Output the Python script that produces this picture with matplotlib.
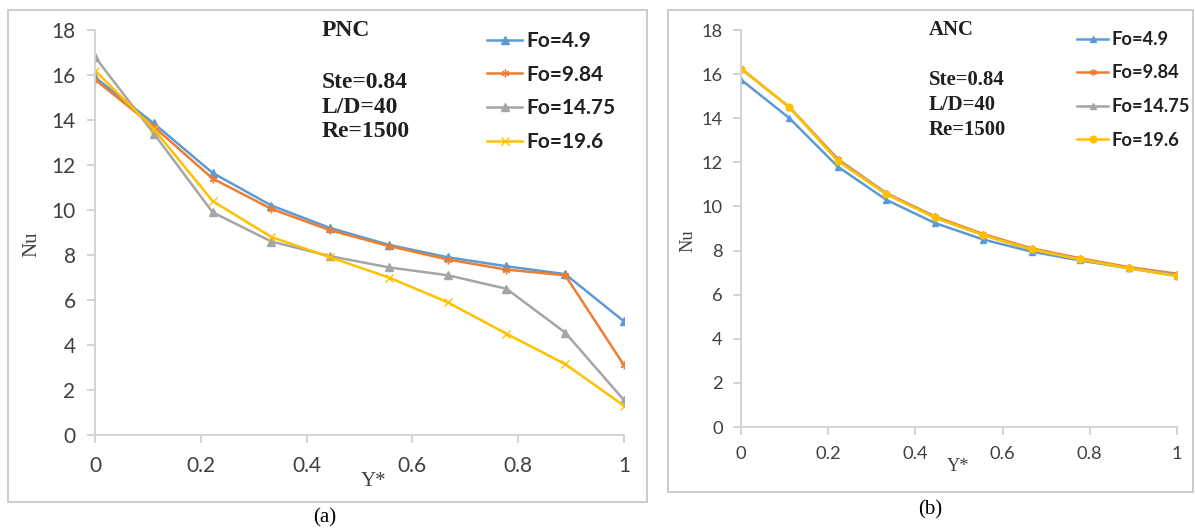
import matplotlib
matplotlib.use("Agg")
import matplotlib.pyplot as plt
from matplotlib.patches import Rectangle
import numpy as np

y_star = [0, 1/9, 2/9, 3/9, 4/9, 5/9, 6/9, 7/9, 8/9, 1]
labels = ["Fo=4.9", "Fo=9.84", "Fo=14.75", "Fo=19.6"]
xtick_labels = ["0", "0.2", "0.4", "0.6", "0.8", "1"]

# PNC case
pnc_fo49 = [15.9, 13.85, 11.65, 10.2, 9.2, 8.45, 7.9, 7.5, 7.15, 5.05]
pnc_fo984 = [15.8, 13.7, 11.4, 10.05, 9.1, 8.4, 7.8, 7.35, 7.1, 3.1]
pnc_fo1475 = [16.8, 13.4, 9.9, 8.6, 7.95, 7.45, 7.1, 6.5, 4.55, 1.55]
pnc_fo196 = [16.2, 13.6, 10.4, 8.8, 7.9, 7.0, 5.9, 4.5, 3.15, 1.3]

# ANC case
anc_fo49 = [15.75, 14.0, 11.8, 10.3, 9.25, 8.5, 7.95, 7.55, 7.2, 6.85]
anc_fo984 = [16.25, 14.5, 12.15, 10.6, 9.55, 8.75, 8.1, 7.65, 7.25, 6.95]
anc_fo1475 = [16.25, 14.5, 12.1, 10.6, 9.5, 8.7, 8.05, 7.6, 7.2, 6.9]
anc_fo196 = [16.25, 14.5, 12.05, 10.55, 9.5, 8.7, 8.05, 7.6, 7.2, 6.85]

colors = ["#5B9BD5", "#ED7D31", "#A5A5A5", "#FFC000"]
star = (6, 2, 0)

W, H = 1195, 530
fig = plt.figure(figsize=(W / 100, H / 100), dpi=100)


def px(x, y):
    # pixel position (from top-left) -> figure fraction
    return x / W, 1 - y / H


# grey frames round each panel
fig.patches.append(Rectangle(px(8, 502), 639 / W, 492 / H, transform=fig.transFigure,
                             fill=False, edgecolor="#C8C8C8", linewidth=1.3))
fig.patches.append(Rectangle(px(668, 492), 525 / W, 482 / H, transform=fig.transFigure,
                             fill=False, edgecolor="#C8C8C8", linewidth=1.3))

ax1 = fig.add_axes([95 / W, 1 - 435 / H, 529 / W, 405 / H])
ax2 = fig.add_axes([741 / W, 1 - 427 / H, 436 / W, 397 / H])

panels = [
    dict(ax=ax1, series=[pnc_fo49, pnc_fo984, pnc_fo1475, pnc_fo196],
         markers=["^", star, "^", "x"], name="PNC", s=1.0, lsp=0.66,
         title_xy=(322, 30), info_y=[82, 107, 132], leg_xy=(487, 31),
         xlab=(0.526, -0.116), ylab=(-0.119, 0.47)),
    dict(ax=ax2, series=[anc_fo49, anc_fo984, anc_fo1475, anc_fo196],
         markers=["^", star, "^", "o"], name="ANC", s=0.88, lsp=0.9,
         title_xy=(929, 30), info_y=[80, 105, 130], leg_xy=(1077, 31),
         xlab=(0.498, -0.10), ylab=(-0.122, 0.47)),
]

for p in panels:
    ax = p["ax"]
    s = p["s"]
    for vals, c, m, lab in zip(p["series"], colors, p["markers"], labels):
        ax.plot(y_star, vals, color=c, marker=m, markersize=5.5 * s, linewidth=1.8,
                label=lab)
    ax.set_xlim(0, 1)
    ax.set_ylim(0, 18)
    ax.set_xticks(np.arange(0, 1.01, 0.2))
    ax.set_xticklabels(xtick_labels)
    ax.set_yticks(np.arange(0, 19, 2))
    for side in ["top", "right"]:
        ax.spines[side].set_visible(False)
    for side in ["left", "bottom"]:
        ax.spines[side].set_color("#D0D0D0")
        ax.spines[side].set_linewidth(1.3)
    ax.tick_params(direction="out", length=6, color="#D0D0D0", width=1.3,
                   labelsize=15 * s, labelcolor="#404040")
    ax.tick_params(axis="x", pad=9 * s)
    ax.tick_params(axis="y", pad=8 * s)
    for t in ax.get_xticklabels() + ax.get_yticklabels():
        t.set_fontfamily("Lato")

    ax.set_xlabel("Y*", fontfamily="Liberation Serif", fontsize=15 * s, color="#404040")
    ax.set_ylabel("Nu", fontfamily="Liberation Serif", fontsize=15 * s, color="#404040")
    ax.xaxis.set_label_coords(*p["xlab"])
    ax.yaxis.set_label_coords(*p["ylab"])
    ax.xaxis.label.set_va("center")
    ax.yaxis.label.set_va("center")

    tx, ty = p["title_xy"]
    fig.text(*px(tx, ty), p["name"], fontfamily="Liberation Serif", fontweight="bold",
             fontsize=17 * s, va="center", color="#202020")
    for line, yy in zip(["Ste=0.84", "L/D=40", "Re=1500"], p["info_y"]):
        fig.text(*px(tx, yy), line, fontfamily="Liberation Serif", fontweight="bold",
                 fontsize=17 * s, va="center", color="#202020")

    leg = ax.legend(loc="upper left", bbox_to_anchor=px(*p["leg_xy"]),
                    bbox_transform=fig.transFigure, frameon=False, borderpad=0,
                    borderaxespad=0, handlelength=1.7, handletextpad=0.2,
                    labelspacing=p["lsp"],
                    prop={"family": "Lato", "weight": "bold", "size": 15 * s})
    for t in leg.get_texts():
        t.set_color("#202020")

fig.text(*px(325, 518), "(a)", fontfamily="Liberation Serif", fontsize=15,
         ha="center", va="center")
fig.text(*px(930, 510), "(b)", fontfamily="Liberation Serif", fontsize=15,
         ha="center", va="center")

fig.savefig("out.png", dpi=100)
